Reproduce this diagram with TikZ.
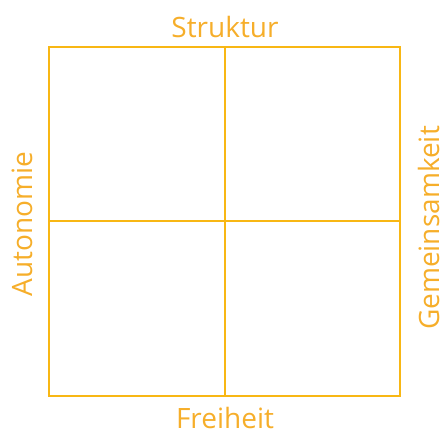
\documentclass[tikz,border=0pt]{standalone}
\usepackage{fontspec}
\setmainfont{Open Sans}
\definecolor{gridc}{HTML}{F8B714}
\definecolor{textc}{HTML}{F6AE2A}
\begin{document}
\begin{tikzpicture}[x=1pt,y=-1pt,
  gridline/.style={draw=gridc,line width=2.2pt},
  lbl/.style={text=textc,font=\fontsize{28}{30}\selectfont,inner sep=0pt,anchor=base}]
\useasboundingbox (0,0) rectangle (446,434);
\coordinate (tl) at (49,47);
\coordinate (br) at (400,396);
\coordinate (tm) at (225,47);
\coordinate (bm) at (225,396);
\coordinate (lm) at (49,221);
\coordinate (rm) at (400,221);
\draw[gridline] (tl) rectangle (br);
\draw[gridline] (tm) -- (bm);
\draw[gridline] (lm) -- (rm);
\node[lbl] (s) at (225,37) {Struktur};
\node[lbl] (f) at (225,428) {Freiheit};
\node[lbl,rotate=90] (a) at (32,224) {Autonomie};
\node[lbl,rotate=90] (g) at (439,228) {Gemeinsamkeit};
\end{tikzpicture}
\end{document}
